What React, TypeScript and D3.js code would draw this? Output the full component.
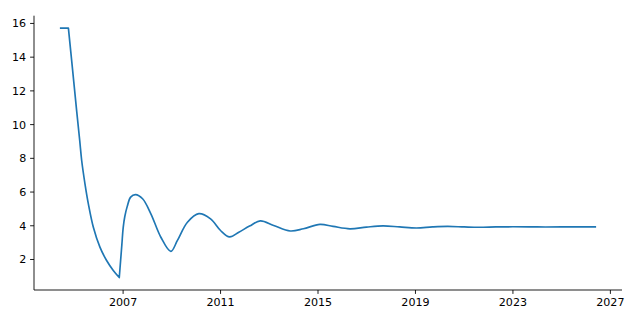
import React from "react";
import * as d3 from "d3";

const years: number[] = [
  2004.44, 2004.755, 2004.93, 2005.095, 2005.22, 2005.3, 2005.435, 2005.574,
  2005.779, 2006.049, 2006.323, 2006.597, 2006.843, 2006.896, 2006.95, 2007.005,
  2007.07, 2007.17, 2007.31, 2007.51, 2007.8, 2008.14, 2008.55,
  2008.96, 2009.23, 2009.64, 2010.11, 2010.59, 2011.0, 2011.37, 2011.75,
  2012.19, 2012.63, 2013.18, 2013.86, 2014.4, 2015.08, 2015.62, 2016.31,
  2016.99, 2017.67, 2018.35, 2019.04, 2019.7, 2020.32, 2021.0, 2021.6,
  2022.3, 2023.0, 2024.0, 2025.0, 2026.38,
];
const values: number[] = [
  15.72, 15.72, 13.2, 10.8, 9.05, 7.87, 6.49, 5.3,
  3.91, 2.73, 1.94, 1.35, 0.93, 1.9, 2.9, 3.9,
  4.55, 5.15, 5.7, 5.85, 5.6, 4.71, 3.32,
  2.48, 3.13, 4.21, 4.72, 4.41, 3.72, 3.34, 3.62,
  3.98, 4.29, 4.02, 3.69, 3.82, 4.08, 3.96, 3.82,
  3.92, 3.99, 3.93, 3.87, 3.93, 3.96, 3.93, 3.91,
  3.93, 3.94, 3.93, 3.93, 3.93,
];
// indices where the series has a sharp corner
const cornerIdx: number[] = [1, 12];
const xTicks: number[] = [2007, 2011, 2015, 2019, 2023, 2027];
const yTicks: number[] = [2, 4, 6, 8, 10, 12, 14, 16];

const W = 640;
const H = 320;
const left = 34;
const right = 622;
const top = 15.7;
const bottom = 290;

export default function App() {
  const [xmin, xmax] = d3.extent(years) as [number, number];
  const xpad = (xmax - xmin) * 0.05;
  const x = d3.scaleLinear().domain([xmin - xpad, xmax + xpad]).range([left, right]);
  const [vmin, vmax] = d3.extent(values) as [number, number];
  const ypad = (vmax - vmin) * 0.05;
  const y = d3.scaleLinear().domain([vmin - ypad, vmax + ypad]).range([bottom, top]);

  const pts: [number, number][] = years.map((d, i) => [d, values[i]]);
  const smooth = d3
    .line<[number, number]>()
    .x((d) => x(d[0]))
    .y((d) => y(d[1]))
    .curve(d3.curveCatmullRom.alpha(0.5));
  const straight = d3
    .line<[number, number]>()
    .x((d) => x(d[0]))
    .y((d) => y(d[1]));

  const seg1 = pts.slice(0, cornerIdx[0] + 1);
  const seg2 = pts.slice(cornerIdx[0], cornerIdx[1] + 1);
  const seg3 = pts.slice(cornerIdx[1]);
  const d =
    (straight(seg1) || "") +
    (smooth(seg2) || "").replace(/^M[^C L]*/, "") +
    (smooth(seg3) || "").replace(/^M[^C L]*/, "");

  const font = "'DejaVu Sans', sans-serif";
  const tickLen = 3.9;
  const sw = 0.89;

  return (
    <svg
      width={W}
      height={H}
      style={{ position: "absolute", left: 0, top: 0, background: "#fff" }}
    >
      <rect x={0} y={0} width={W} height={H} fill="#fff" />
      <path d={d} fill="none" stroke="#1f77b4" strokeWidth={1.67} strokeLinejoin="round" strokeLinecap="square" />
      <line x1={left} x2={left} y1={top} y2={bottom} stroke="#000" strokeWidth={sw} />
      <line x1={left} x2={right} y1={bottom} y2={bottom} stroke="#000" strokeWidth={sw} />
      {xTicks.map((t) => (
        <g key={"x" + t}>
          <line x1={x(t)} x2={x(t)} y1={bottom} y2={bottom + tickLen} stroke="#000" strokeWidth={sw} />
          <text x={x(t)} y={306} textAnchor="middle" fontFamily={font} fontSize={11.1} fill="#000">
            {t}
          </text>
        </g>
      ))}
      {yTicks.map((t) => (
        <g key={"y" + t}>
          <line x1={left - tickLen} x2={left} y1={y(t)} y2={y(t)} stroke="#000" strokeWidth={sw} />
          <text x={left - 2 * tickLen} y={y(t) + 4} textAnchor="end" fontFamily={font} fontSize={11.1} fill="#000">
            {t}
          </text>
        </g>
      ))}
    </svg>
  );
}
